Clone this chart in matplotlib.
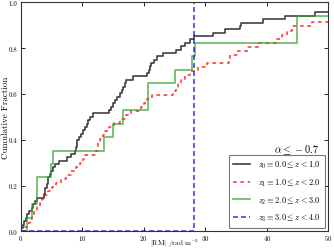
import numpy as np
import matplotlib
matplotlib.use('Agg')
import matplotlib.pyplot as plt

plt.rcParams['font.family'] = 'serif'
plt.rcParams['font.serif'] = ['cmr10', 'DejaVu Serif']
plt.rcParams['mathtext.fontset'] = 'cm'
plt.rcParams['axes.formatter.use_mathtext'] = True
plt.rcParams['axes.unicode_minus'] = False

# |RM| values per redshift bin (rad m^-2)
rm_z0 = [0.05, 0.43, 0.6, 0.86, 1.0, 1.3, 1.8, 2.0, 2.4, 2.6,
         3.8, 3.9, 4.0, 4.2, 4.4, 4.5, 4.8, 5.0, 5.3, 5.6,
         6.3, 7.5, 8.2, 8.8, 9.0, 9.1, 9.2, 9.5, 9.8, 10.2,
         10.5, 10.8, 11.0, 11.3, 11.8, 14.3, 14.6, 15.0, 15.3, 15.6,
         16.1, 16.4, 16.6, 16.9, 17.1, 18.2, 20.6, 20.8, 21.0, 21.1,
         21.6, 22.1, 23.2, 25.3, 26.0, 26.7, 27.5, 28.1, 31.2, 33.2,
         35.7, 35.8, 39.4, 43.0, 47.9, 55.0, 62.0, 80.0]
rm_z1 = [0.75, 1.1, 1.5, 1.9, 2.2, 2.6, 3.1, 3.5, 4.0, 4.5,
         5.1, 5.8, 6.6, 7.4, 8.1, 9.0, 9.6, 10.1, 10.5, 12.3,
         12.5, 12.6, 12.9, 13.3, 13.7, 14.3, 15.2, 16.1, 17.1, 18.0,
         19.6, 20.1, 20.5, 21.4, 24.7, 25.2, 25.6, 26.1, 26.7, 27.5,
         28.8, 30.2, 33.8, 34.0, 35.4, 37.0, 38.6, 41.5, 42.5, 43.3,
         44.1, 47.3, 55.0, 60.0, 70.0, 85.0, 120.0]
rm_z2 = [1.0, 1.8, 2.6, 2.6, 5.0, 5.2, 13.6, 15.0, 16.7, 20.7,
         20.7, 25.0, 27.9, 28.3, 44.9, 44.9, 60.0]
rm_z3 = [28.1]

labels = [r'$z_0 \equiv 0.0 \leq z < 1.0$',
          r'$z_1 \equiv 1.0 \leq z < 2.0$',
          r'$z_2 \equiv 2.0 \leq z < 3.0$',
          r'$z_3 \equiv 3.0 \leq z < 4.0$']


def cumulative(vals):
    v = np.sort(np.asarray(vals, dtype=float))
    frac = np.arange(1, len(v) + 1) / float(len(v))
    return np.concatenate([[0.0], v]), np.concatenate([[0.0], frac])


fig = plt.figure(figsize=(3.34, 2.51), dpi=100)
ax = fig.add_axes([0.062, 0.0745, 0.921, 0.912])

styles = [('k', '-', None), ('r', '--', (2.2, 2.2)),
          ('#33a02c', '-', None), ('b', '--', (3.0, 1.8))]
for vals, (c, ls, dash), lab in zip([rm_z0, rm_z1, rm_z2, rm_z3], styles, labels):
    x, y = cumulative(vals)
    ln, = ax.step(x, y, where='post', color=c, ls=ls, lw=1.2, alpha=0.75, label=lab)
    if dash is not None:
        ln.set_dashes(dash)

ax.set_xlim(0, 50)
ax.set_ylim(0, 1.0)
ax.set_xticks([0, 10, 20, 30, 40, 50])
ax.set_yticks([0.0, 0.2, 0.4, 0.6, 0.8, 1.0])
ax.set_yticklabels(['0.0', '0.2', '0.4', '0.6', '0.8', '1.0'])
ax.tick_params(direction='in', top=True, right=True, length=3, width=0.6,
               labelsize=5, pad=2.4)
ax.tick_params(axis='x', pad=1.5)
for s in ax.spines.values():
    s.set_linewidth(0.8)
    s.set_color('#333333')

ax.set_xlabel(r'$|$RM$|$ /rad m$^{-2}$', fontsize=5.2, va='bottom')
ax.set_ylabel('Cumulative Fraction', fontsize=6.5)
ax.xaxis.set_label_coords(0.5, -0.078)
ax.yaxis.set_label_coords(-0.036, 0.5)

ax.text(48.6, 0.36, r'$\alpha \leq -0.7$', fontsize=7.5, ha='right', va='center')

leg = ax.legend(loc='lower right', fontsize=6, fancybox=False, handlelength=2.0,
                borderpad=0.5, labelspacing=0.75, handletextpad=1.0,
                borderaxespad=0.45)
leg.get_frame().set_edgecolor('#555555')
leg.get_frame().set_linewidth(0.8)

fig.savefig('out.png', dpi=100)
